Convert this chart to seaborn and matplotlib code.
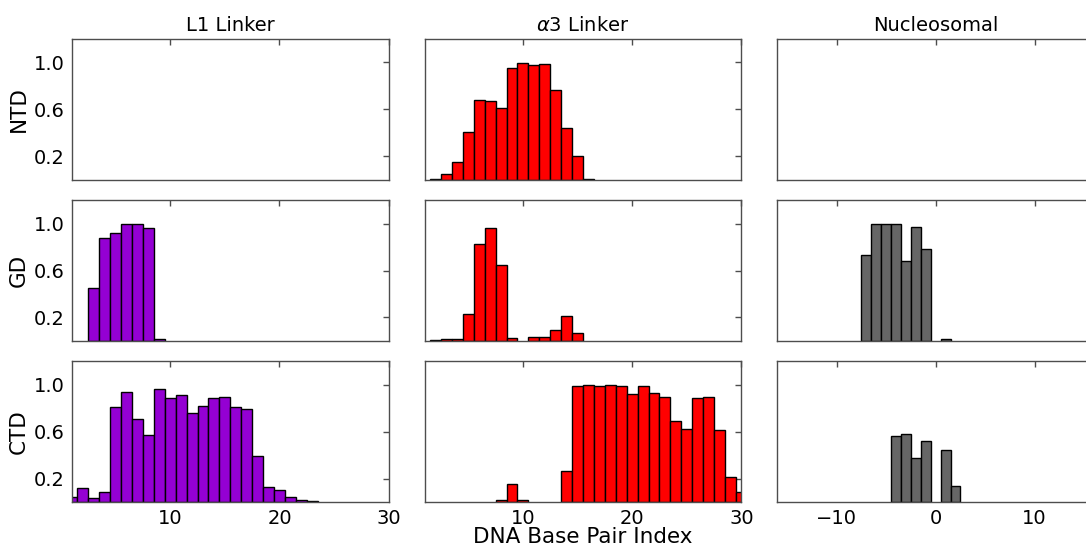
import numpy as np
import pandas as pd
import matplotlib
matplotlib.use("Agg")
import matplotlib.pyplot as plt
import seaborn as sns

# Per-base-pair contact fractions for each H1 domain at each DNA site
rows = ["NTD", "GD", "CTD"]
cols = ["L1 Linker", r"$\alpha$3 Linker", "Nucleosomal"]
col_keys = ["l1", "a3", "nuc"]

l1_ntd_idx = []
l1_ntd_val = []
l1_gd_idx = [3, 4, 5, 6, 7, 8, 9]
l1_gd_val = [0.447, 0.875, 0.918, 1.0, 1.0, 0.96, 0.02]
l1_ctd_idx = list(range(1, 24))
l1_ctd_val = [0.043, 0.116, 0.037, 0.088, 0.806, 0.933, 0.704, 0.567, 0.959,
              0.888, 0.913, 0.755, 0.820, 0.882, 0.894, 0.806, 0.794, 0.389,
              0.130, 0.099, 0.043, 0.017, 0.006]

a3_ntd_idx = list(range(2, 17))
a3_ntd_val = [0.005, 0.053, 0.152, 0.412, 0.680, 0.669, 0.610, 0.952, 0.992,
              0.980, 0.986, 0.765, 0.443, 0.203, 0.010]
a3_gd_idx = [2, 3, 4, 5, 6, 7, 8, 9, 11, 12, 13, 14, 15]
a3_gd_val = [0.005, 0.013, 0.016, 0.228, 0.824, 0.963, 0.648, 0.024, 0.033,
             0.038, 0.095, 0.214, 0.064]
a3_ctd_idx = [8, 9, 10] + list(range(14, 31))
a3_ctd_val = [0.017, 0.153, 0.017, 0.261, 0.989, 0.997, 0.991, 1.0, 0.986,
              0.915, 0.986, 0.926, 0.895, 0.693, 0.622, 0.881, 0.892, 0.611,
              0.210, 0.082]

nuc_ntd_idx = []
nuc_ntd_val = []
nuc_gd_idx = [-7, -6, -5, -4, -3, -2, -1, 1]
nuc_gd_val = [0.73, 0.997, 1.0, 0.997, 0.682, 0.974, 0.784, 0.021]
nuc_ctd_idx = [-4, -3, -2, -1, 1, 2]
nuc_ctd_val = [0.565, 0.582, 0.375, 0.517, 0.443, 0.136]

data = {
    ("l1", "NTD"): (l1_ntd_idx, l1_ntd_val),
    ("l1", "GD"): (l1_gd_idx, l1_gd_val),
    ("l1", "CTD"): (l1_ctd_idx, l1_ctd_val),
    ("a3", "NTD"): (a3_ntd_idx, a3_ntd_val),
    ("a3", "GD"): (a3_gd_idx, a3_gd_val),
    ("a3", "CTD"): (a3_ctd_idx, a3_ctd_val),
    ("nuc", "NTD"): (nuc_ntd_idx, nuc_ntd_val),
    ("nuc", "GD"): (nuc_gd_idx, nuc_gd_val),
    ("nuc", "CTD"): (nuc_ctd_idx, nuc_ctd_val),
}

col_colors = {"l1": "#9400d3", "a3": "#ff0000", "nuc": "#666666"}
col_xlim = {"l1": (1, 30), "a3": (1, 30), "nuc": (-16, 16)}
col_xticks = {"l1": [10, 20, 30], "a3": [10, 20, 30], "nuc": [-10, 0, 10]}
y_ticks = [0.2, 0.6, 1.0]

sns.set_theme(style="white")
plt.rcParams["font.family"] = ["DejaVu Sans"]
plt.rcParams["mathtext.fontset"] = "dejavusans"
plt.rcParams["axes.edgecolor"] = "0.3"
plt.rcParams["axes.linewidth"] = 1.0
plt.rcParams["text.color"] = "black"
plt.rcParams["axes.labelcolor"] = "black"
plt.rcParams["xtick.labelcolor"] = "black"
plt.rcParams["ytick.labelcolor"] = "black"

fig, axes = plt.subplots(3, 3, figsize=(10.86, 5.46), dpi=100, sharey=True)
fig.subplots_adjust(left=72 / 1086, right=1094 / 1086, top=1 - 39 / 546,
                    bottom=1 - 502 / 546, wspace=0.1137, hspace=0.142)

for r, row in enumerate(rows):
    for c, key in enumerate(col_keys):
        ax = axes[r, c]
        idx, val = data[(key, row)]
        if len(idx):
            df = pd.DataFrame({"bp": idx, "frac": val})
            sns.histplot(data=df, x="bp", weights="frac", discrete=True,
                         color=col_colors[key], edgecolor="black",
                         linewidth=1.0, alpha=1.0, ax=ax)
            for p in ax.patches:
                if p.get_height() <= 0:
                    p.set_visible(False)
        ax.set_xlim(*col_xlim[key])
        ax.set_ylim(0, 1.2)
        ax.set_xticks(col_xticks[key])
        ax.set_yticks(y_ticks)
        ax.tick_params(direction="in", top=True, right=True, length=4,
                       width=1, color="0.3", labelcolor="black",
                       labelsize=14, pad=5)
        ax.set_xlabel("")
        ax.set_ylabel("")
        if r < 2:
            ax.tick_params(labelbottom=False)
        if c == 0:
            ax.set_ylabel(row, fontsize=15.5, labelpad=4, color="black")
        else:
            ax.tick_params(labelleft=False)
        if r == 0:
            ax.set_title(cols[c], fontsize=14, pad=6, color="black")
        for s in ax.spines.values():
            s.set_visible(True)

axes[2, 1].set_xlabel("DNA Base Pair Index", fontsize=15.5, labelpad=-1,
                      color="black")

fig.savefig("out.png", dpi=100)
